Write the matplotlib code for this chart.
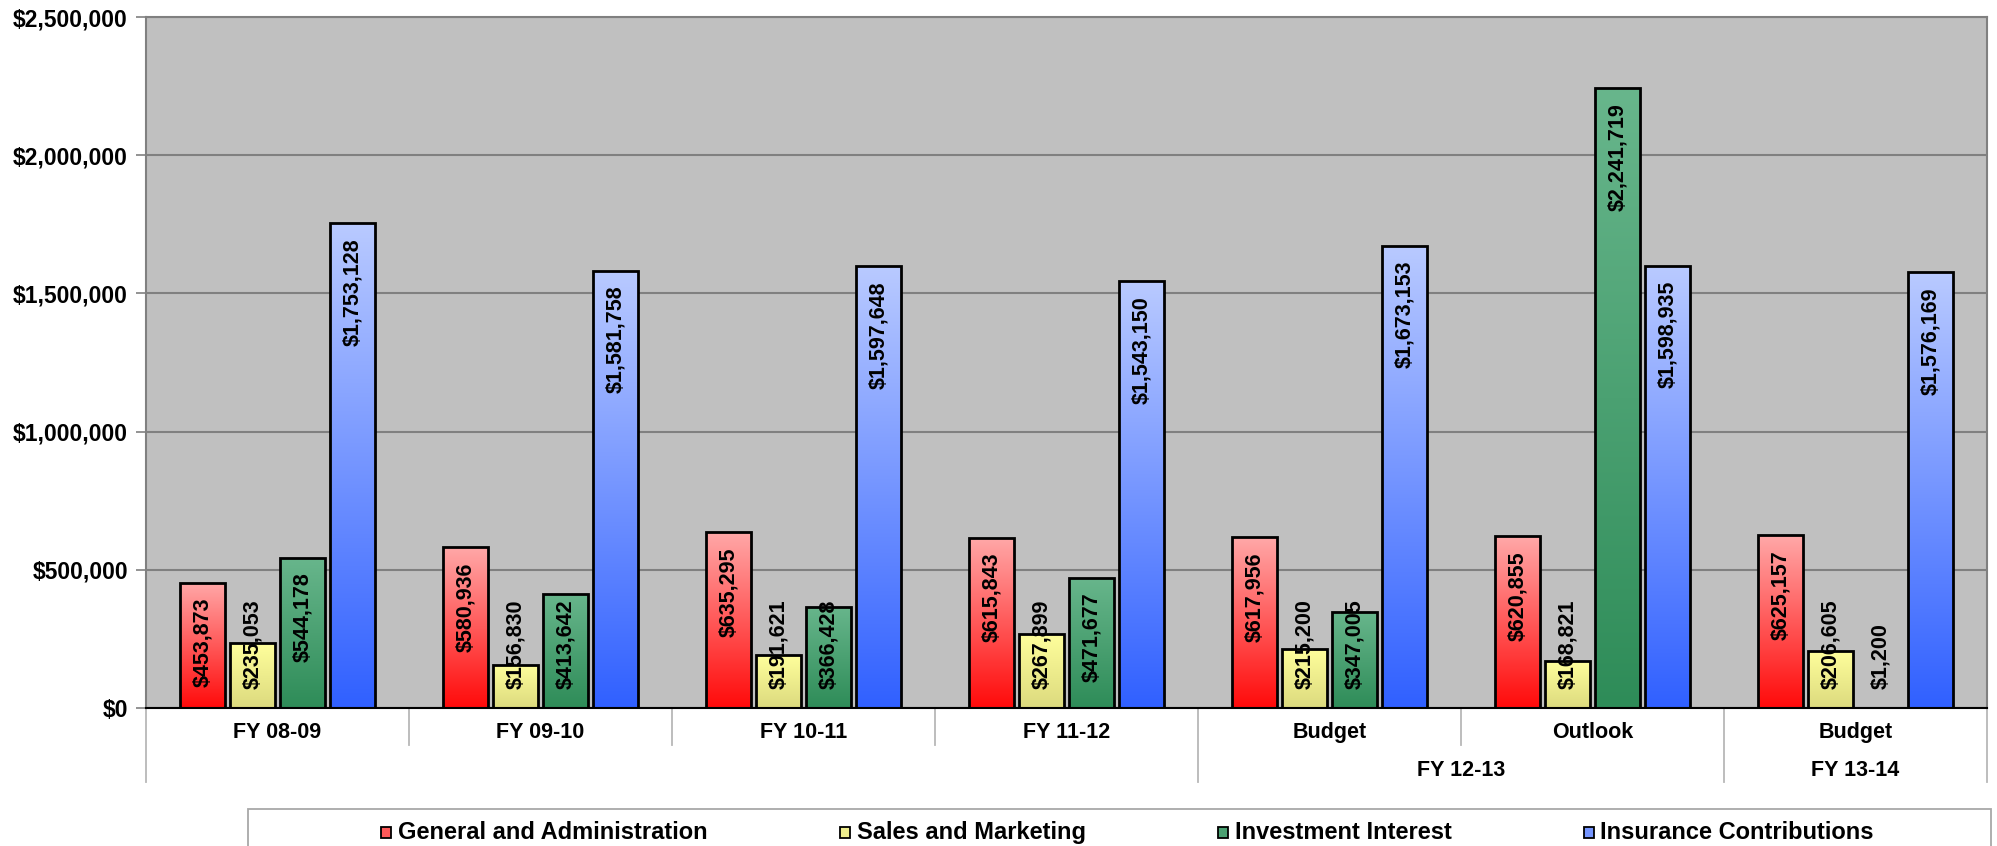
import numpy as np
import matplotlib
matplotlib.use("Agg")
import matplotlib.pyplot as plt
from matplotlib import transforms
from matplotlib.patches import Rectangle
from matplotlib.colors import LinearSegmentedColormap

plt.rcParams['font.family'] = ['Liberation Sans', 'DejaVu Sans']
plt.rcParams['font.weight'] = 'bold'

# data
categories = ["FY 08-09", "FY 09-10", "FY 10-11", "FY 11-12", "Budget", "Outlook", "Budget"]
groups = ["", "", "", "", "FY 12-13", "FY 12-13", "FY 13-14"]
series_names = ["General and Administration", "Sales and Marketing",
                "Investment Interest", "Insurance Contributions"]
gen_admin = [453873, 580936, 635295, 615843, 617956, 620855, 625157]
sales_mkt = [235053, 156830, 191621, 267899, 215200, 168821, 206605]
invest_int = [544178, 413642, 366428, 471677, 347005, 2241719, 1200]
insurance = [1753128, 1581758, 1597648, 1543150, 1673153, 1598935, 1576169]
y_ticks = [0, 500000, 1000000, 1500000, 2000000, 2500000]

series = [gen_admin, sales_mkt, invest_int, insurance]
# (top colour, bottom colour) of each gradient
grads = [("#FFA8A8", "#FF0A0A"),
         ("#FFFF9C", "#DCDA7E"),
         ("#68B68C", "#2E8C58"),
         ("#B9CAFF", "#3060FF")]

W, H, DPI = 1997, 846, 100
fig = plt.figure(figsize=(W / DPI, H / DPI), dpi=DPI)
ax = fig.add_axes([146 / W, 1 - 708 / H, (1987 - 146) / W, (708 - 17) / H])
ax.set_facecolor("#C0C0C0")

x = np.arange(len(categories))
step, width = 0.19, 0.174
grad = np.linspace(0, 1, 256).reshape(-1, 1)

bars_all = []
for i, vals in enumerate(series):
    cmap = LinearSegmentedColormap.from_list("g%d" % i, [grads[i][1], grads[i][0]])
    bars = ax.bar(x + (i - 1.5) * step, vals, width, facecolor="none",
                  edgecolor="black", linewidth=2, zorder=4)
    for b in bars:
        x0, w, h = b.get_x(), b.get_width(), b.get_height()
        im = ax.imshow(grad, cmap=cmap, aspect="auto", origin="lower",
                       extent=(x0, x0 + w, 0, h), zorder=3, interpolation="bilinear")
        im.set_clip_path(b)
    bars_all.append(bars)

ax.set_xlim(-0.5, len(categories) - 0.5)
ax.set_ylim(0, 2500000)
ax.set_yticks(y_ticks)
ax.set_yticklabels(["${:,}".format(v) for v in y_ticks], fontsize=16.5, fontweight="bold")
ax.tick_params(axis="y", length=7, width=1.2, color="#808080", pad=6)
ax.set_xticks([])
ax.yaxis.grid(True, color="#808080", linewidth=1.5)
ax.set_axisbelow(True)
for s in ["top", "right", "left"]:
    ax.spines[s].set_color("#808080")
    ax.spines[s].set_linewidth(1.5)
ax.spines["bottom"].set_color("black")
ax.spines["bottom"].set_linewidth(1.5)
ax.spines["bottom"].set_zorder(5)

# category labels below the plot
xt = ax.get_xaxis_transform()
ah = 708 - 17
for xi, c in zip(x, categories):
    ax.text(xi, -24 / ah, c, transform=xt, ha="center", va="center",
            fontsize=15.5, fontweight="bold")

# second level group labels and divider lines
bounds = [0]
for k in range(1, len(groups)):
    if groups[k] != groups[k - 1]:
        bounds.append(k)
bounds.append(len(groups))
for a, b in zip(bounds[:-1], bounds[1:]):
    if groups[a]:
        ax.text((a + b - 1) / 2, -62 / ah, groups[a], transform=xt, ha="center",
                va="center", fontsize=15.5, fontweight="bold")
for k in range(len(categories) + 1):
    ylow = -74 / ah if k in bounds else -37 / ah
    ax.plot([k - 0.5, k - 0.5], [0, ylow], transform=xt, color="#B8B8B8",
            linewidth=1.3, clip_on=False)

# value labels inside bars
fig.canvas.draw()
rend = fig.canvas.get_renderer()
base_px = ax.transData.transform((0, 0))[1]
for bars, vals in zip(bars_all, series):
    for b, v in zip(bars, vals):
        cx = b.get_x() + b.get_width() / 2
        tr = transforms.offset_copy(ax.transData, fig=fig, y=-15, units="dots")
        t = ax.text(cx, v, "${:,}".format(v), rotation=90, ha="center", va="top",
                    fontsize=15.5, fontweight="bold", transform=tr, zorder=6)
        bb = t.get_window_extent(rend)
        if bb.y0 < base_px + 19:
            t.set_transform(transforms.offset_copy(ax.transData, fig=fig, y=19, units="dots"))
            t.set_position((cx, 0))
            t.set_va("bottom")

# legend box along the bottom
def fx(px):
    return px / W

def fy(py):
    return 1 - py / H

fig.patches.append(Rectangle((fx(248), fy(H + 10)), fx(1991 - 248), (H + 10 - 809) / H,
                             transform=fig.transFigure, facecolor="white",
                             edgecolor="#A8A8A8", linewidth=1.3, clip_on=False))
xpos = 381
for name, (top, bot) in zip(series_names, grads):
    cm = LinearSegmentedColormap.from_list("l", [bot, top])
    sq = Rectangle((fx(xpos), fy(838)), fx(10), 11 / H, transform=fig.transFigure,
                   facecolor=cm(0.5), edgecolor="black", linewidth=1.3)
    fig.patches.append(sq)
    t = fig.text(fx(xpos + 17), fy(832), name, ha="left", va="center",
                 fontsize=17, fontweight="bold")
    tw = t.get_window_extent(rend).width
    xpos = xpos + 17 + tw + 132

fig.savefig("out.png", dpi=DPI, facecolor="white")
